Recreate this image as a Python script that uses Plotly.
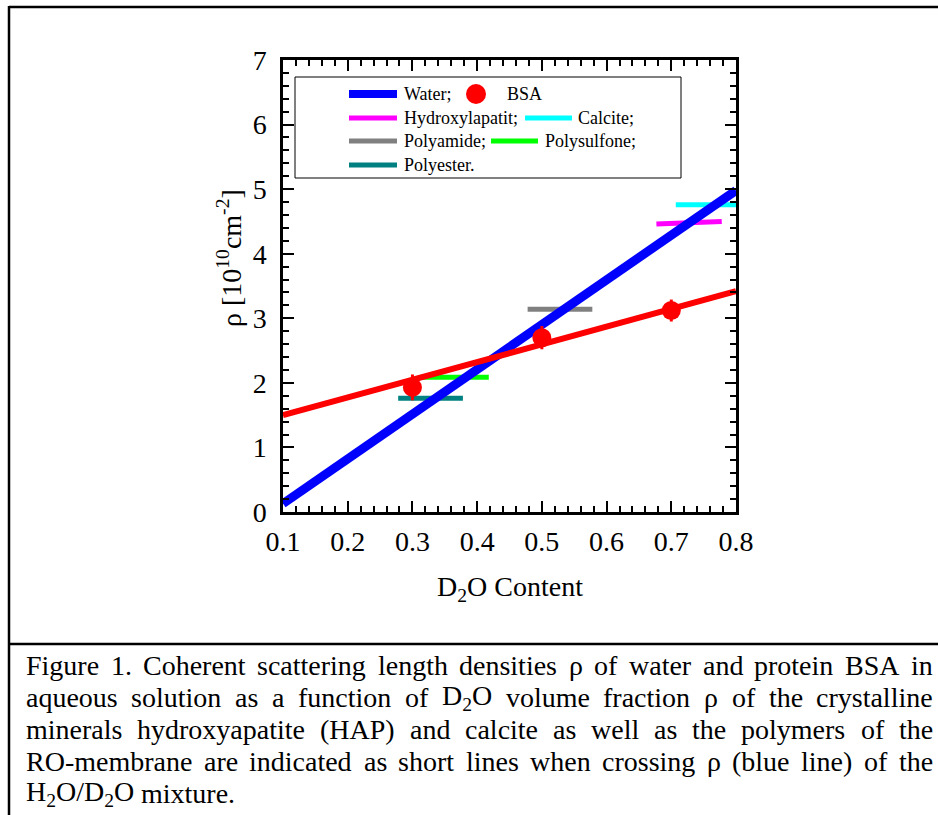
import plotly.graph_objects as go

# ---------------- data ----------------
water_x = [0.1, 0.8]
water_y = [0.13, 4.98]

bsa_fit_x = [0.1, 0.8]
bsa_fit_y = [1.50, 3.42]

bsa_x = [0.3, 0.5, 0.7]
bsa_y = [1.93, 2.70, 3.12]
bsa_err = [0.20, 0.18, 0.17]

hap_x = [0.677, 0.778]
hap_y = [4.46, 4.50]
calcite_x = [0.707, 0.80]
calcite_y = [4.76, 4.76]
polyamide_x = [0.478, 0.578]
polyamide_y = [3.14, 3.14]
polysulfone_x = [0.312, 0.418]
polysulfone_y = [2.085, 2.085]
polyester_x = [0.278, 0.378]
polyester_y = [1.76, 1.76]

x_ticks = [0.1, 0.2, 0.3, 0.4, 0.5, 0.6, 0.7, 0.8]
y_ticks = [0, 1, 2, 3, 4, 5, 6, 7]

caption_lines = [
    "Figure 1. Coherent scattering length densities ρ of water and protein BSA in",
    "aqueous solution as a function of D<sub>2</sub>O volume fraction ρ of the crystalline",
    "minerals hydroxyapatite (HAP) and calcite as well as the polymers of the",
    "RO-membrane are indicated as short lines when crossing ρ (blue line) of the",
    "H<sub>2</sub>O/D<sub>2</sub>O mixture.",
]

# ---------------- layout helpers ----------------
W, H = 938, 815
FONT = "Liberation Serif, Times New Roman, serif"


def px(x):
    return x / W


def py(y):
    return 1 - y / H


# Times-Roman advance widths (per 1000 em) used to justify the caption
TIMES = {" ": 250, "!": 333, "(": 333, ")": 333, "-": 333, ".": 250, "/": 278,
         ":": 278, ";": 278, ",": 250, "ρ": 500}
for ch in "0123456789":
    TIMES[ch] = 500
TIMES.update(dict(zip("ABCDEFGHIJKLMNOPQRSTUVWXYZ",
                      [722, 667, 667, 722, 611, 556, 722, 722, 333, 389, 722,
                       611, 889, 722, 722, 556, 722, 667, 556, 611, 722, 722,
                       944, 722, 722, 611])))
TIMES.update(dict(zip("abcdefghijklmnopqrstuvwxyz",
                      [444, 500, 444, 500, 444, 333, 500, 500, 278, 278, 500,
                       278, 778, 500, 500, 500, 500, 333, 389, 278, 500, 500,
                       722, 500, 500, 444])))


def word_width(word, size):
    total = 0.0
    scale = 1.0
    i = 0
    while i < len(word):
        if word.startswith("<sub>", i):
            scale = 0.7
            i += 5
            continue
        if word.startswith("</sub>", i):
            scale = 1.0
            i += 6
            continue
        total += TIMES.get(word[i], 500) * scale
        i += 1
    return total / 1000.0 * size


BLUE = "#0000ff"
RED = "#ff0000"
MAGENTA = "#ff00ff"
CYAN = "#00ffff"
GRAY = "#808080"
GREEN = "#00ff00"
TEAL = "#008080"

fig = go.Figure()

short_lines = [
    (polyester_x, polyester_y, TEAL),
    (polysulfone_x, polysulfone_y, GREEN),
    (polyamide_x, polyamide_y, GRAY),
    (hap_x, hap_y, MAGENTA),
    (calcite_x, calcite_y, CYAN),
]
for xs, ys, c in short_lines:
    fig.add_trace(go.Scatter(x=xs, y=ys, mode="lines",
                             line=dict(color=c, width=5), showlegend=False,
                             hoverinfo="skip"))

fig.add_trace(go.Scatter(x=water_x, y=water_y, mode="lines",
                         line=dict(color=BLUE, width=9), showlegend=False))
fig.add_trace(go.Scatter(x=bsa_fit_x, y=bsa_fit_y, mode="lines",
                         line=dict(color=RED, width=6), showlegend=False))
fig.add_trace(go.Scatter(x=bsa_x, y=bsa_y, mode="markers",
                         marker=dict(color=RED, size=19),
                         error_y=dict(type="data", array=bsa_err, color=RED,
                                      thickness=3, width=0),
                         showlegend=False))

axis_common = dict(
    showline=True, linecolor="black", linewidth=2.5, mirror="allticks",
    ticks="inside", ticklen=11, tickwidth=2, tickcolor="black",
    showgrid=False, zeroline=False, automargin=False,
    tickfont=dict(family=FONT, size=28, color="black"),
)

fig.update_xaxes(
    range=[0.1, 0.8], domain=[px(283), px(736)],
    tickvals=x_ticks, ticktext=[f"{v:.1f}" for v in x_ticks],
    minor=dict(ticks="inside", dtick=0.02, tick0=0.1, ticklen=6,
               tickwidth=1.5, tickcolor="black", showgrid=False),
    ticklabelstandoff=3,
    **axis_common,
)
fig.update_yaxes(
    range=[0, 7], domain=[py(512), py(60)],
    tickvals=y_ticks, ticktext=[str(v) for v in y_ticks],
    minor=dict(ticks="inside", dtick=0.2, tick0=0, ticklen=6,
               tickwidth=1.5, tickcolor="black", showgrid=False),
    ticklabelstandoff=8,
    **axis_common,
)

shapes = []
annotations = []

# outer frame and separator
shapes.append(dict(type="line", xref="paper", yref="paper",
                   x0=px(9), x1=px(9), y0=py(6), y1=py(815),
                   line=dict(color="black", width=2.5)))
shapes.append(dict(type="line", xref="paper", yref="paper",
                   x0=px(9), x1=px(938), y0=py(7), y1=py(7),
                   line=dict(color="black", width=2.5)))
shapes.append(dict(type="line", xref="paper", yref="paper",
                   x0=px(9), x1=px(938), y0=py(644), y1=py(644),
                   line=dict(color="black", width=2.5)))

# legend box
shapes.append(dict(type="rect", xref="paper", yref="paper",
                   x0=px(295), x1=px(681), y0=py(178), y1=py(77),
                   line=dict(color="black", width=1), fillcolor="white"))

leg_font = dict(family=FONT, size=18, color="black")
legend_items = [
    # (x0, x1, y, colour, width, label, label_x)
    (349, 397, 94, BLUE, 8, "Water;", 402),
    (349, 397, 118, MAGENTA, 5, "Hydroxylapatit;", 402),
    (525, 572, 118, CYAN, 5, "Calcite;", 576),
    (349, 397, 141, GRAY, 5, "Polyamide;", 402),
    (491, 538, 141, GREEN, 5, "Polysulfone;", 543),
    (349, 397, 165, TEAL, 5, "Polyester.", 402),
]
for x0, x1, yy, c, w, lab, lx in legend_items:
    shapes.append(dict(type="line", xref="paper", yref="paper",
                       x0=px(x0), x1=px(x1), y0=py(yy), y1=py(yy),
                       line=dict(color=c, width=w)))
    annotations.append(dict(xref="paper", yref="paper", x=px(lx), y=py(yy),
                            text=lab, showarrow=False, xanchor="left",
                            yanchor="middle", font=leg_font))
# BSA legend dot
shapes.append(dict(type="circle", xref="paper", yref="paper",
                   x0=px(466), x1=px(486), y0=py(104), y1=py(84),
                   line=dict(color=RED, width=0), fillcolor=RED))
annotations.append(dict(xref="paper", yref="paper", x=px(505), y=py(94),
                        text="BSA", showarrow=False, xanchor="left",
                        yanchor="middle", font=leg_font))

# axis titles
annotations.append(dict(xref="paper", yref="paper", x=px(510), y=py(588),
                        text="D<sub>2</sub>O Content", showarrow=False,
                        xanchor="center", yanchor="middle",
                        font=dict(family=FONT, size=28, color="black")))
annotations.append(dict(xref="paper", yref="paper", x=px(230), y=py(258),
                        text="ρ [10<sup>10</sup>cm<sup>-2</sup>]",
                        showarrow=False, textangle=-90,
                        xanchor="center", yanchor="middle",
                        font=dict(family=FONT, size=28, color="black")))

# caption (justified: words spread between left and right margins)
CAP_SIZE = 28
CAP_LEFT, CAP_RIGHT = 24, 931
cap_font = dict(family=FONT, size=CAP_SIZE, color="black")
for i, line in enumerate(caption_lines):
    yy = py(665 + 32 * i)
    words = line.split(" ")
    widths = [word_width(w, CAP_SIZE) for w in words]
    last = i == len(caption_lines) - 1
    if last or len(words) == 1:
        gap = TIMES[" "] / 1000.0 * CAP_SIZE
    else:
        gap = (CAP_RIGHT - CAP_LEFT - sum(widths)) / (len(words) - 1)
    xpos = CAP_LEFT
    for w, wd in zip(words, widths):
        annotations.append(dict(xref="paper", yref="paper", x=px(xpos), y=yy,
                                text=w, showarrow=False, xanchor="left",
                                yanchor="middle", font=cap_font))
        xpos += wd + gap

fig.update_layout(
    width=W, height=H, margin=dict(l=0, r=0, t=0, b=0, pad=0),
    paper_bgcolor="white", plot_bgcolor="white",
    shapes=shapes, annotations=annotations, showlegend=False,
)

fig.write_html("out.html",
               config={"displayModeBar": False},
               post_script="document.body.style.margin='0px';"
                           "document.body.style.overflow='hidden';")
